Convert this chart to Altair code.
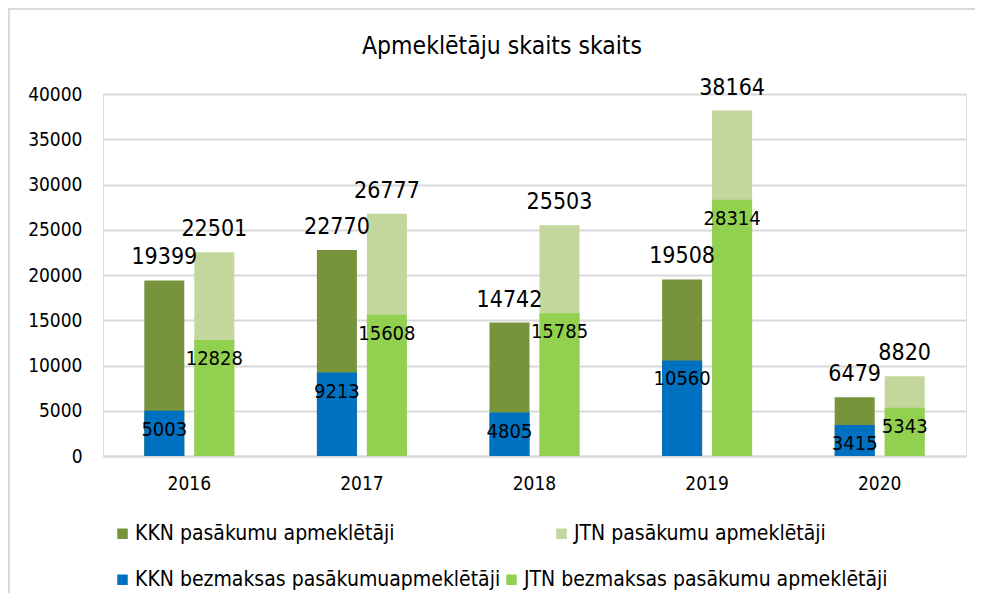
import altair as alt
import pandas as pd

years = ["2016", "2017", "2018", "2019", "2020"]
kkn_total = [19399, 22770, 14742, 19508, 6479]
jtn_total = [22501, 26777, 25503, 38164, 8820]
kkn_free = [5003, 9213, 4805, 10560, 3415]
jtn_free = [12828, 15608, 15785, 28314, 5343]

total_names = ["KKN pasākumu apmeklētāji", "JTN pasākumu apmeklētāji"]
free_names = ["KKN bezmaksas pasākumuapmeklētāji", "JTN bezmaksas pasākumu apmeklētāji"]
total_colors = ["#77933C", "#C3D69B"]
free_colors = ["#0070C0", "#92D050"]
title_text = "Apmeklētāju skaits skaits"
y_ticks = [0, 5000, 10000, 15000, 20000, 25000, 30000, 35000, 40000]

rows = []
for i, yr in enumerate(years):
    rows.append({"year": yr, "grp": "KKN", "series": total_names[0], "value": kkn_total[i], "kind": "total"})
    rows.append({"year": yr, "grp": "JTN", "series": total_names[1], "value": jtn_total[i], "kind": "total"})
    rows.append({"year": yr, "grp": "KKN", "series": free_names[0], "value": kkn_free[i], "kind": "free"})
    rows.append({"year": yr, "grp": "JTN", "series": free_names[1], "value": jtn_free[i], "kind": "free"})
df = pd.DataFrame(rows)

FONT = "DejaVu Sans Condensed, DejaVu Sans"

x_enc = alt.X(
    "year:N",
    sort=years,
    title=None,
    scale=alt.Scale(paddingInner=0.4786, paddingOuter=0.2393),
    axis=alt.Axis(
        labelAngle=0,
        labelFontSize=19,
        labelFont=FONT,
        labelColor="#000000",
        labelPadding=18,
        ticks=False,
        domain=True,
        domainColor="#d9d9d9",
        domainWidth=2,
        grid=False,
    ),
)
xoff_enc = alt.XOffset(
    "grp:N",
    scale=alt.Scale(domain=["KKN", "JTN"], paddingInner=0.2, paddingOuter=0),
)
y_enc = alt.Y(
    "value:Q",
    title=None,
    scale=alt.Scale(domain=[0, 40000], nice=False),
    axis=alt.Axis(
        values=y_ticks,
        labelFontSize=19,
        labelFont=FONT,
        labelColor="#000000",
        labelPadding=21,
        ticks=False,
        domain=False,
        grid=True,
        gridColor="#d9d9d9",
        gridWidth=2,
        format="d",
    ),
)


def make_legend(ly, colpad):
    return alt.Legend(
        title=None,
        orient="none",
        legendX=9,
        legendY=ly,
        direction="horizontal",
        columns=2,
        symbolType="square",
        symbolSize=110,
        symbolStrokeWidth=0,
        labelFontSize=21,
        labelFont=FONT,
        labelColor="#000000",
        labelOffset=2,
        columnPadding=colpad,
        labelLimit=500,
    )


total_color = alt.Color(
    "series:N",
    scale=alt.Scale(domain=total_names, range=total_colors),
    legend=make_legend(429, 156),
)
free_color = alt.Color(
    "series:N",
    scale=alt.Scale(domain=free_names, range=free_colors),
    legend=make_legend(475, -6),
)

base = alt.Chart(df)

total_bars = base.transform_filter(alt.datum.kind == "total").mark_bar().encode(
    x=x_enc, xOffset=xoff_enc, y=y_enc, color=total_color
)
free_bars = base.transform_filter(alt.datum.kind == "free").mark_bar().encode(
    x=x_enc, xOffset=xoff_enc, y=y_enc, color=free_color
)
total_text = base.transform_filter(alt.datum.kind == "total").mark_text(
    baseline="alphabetic", dy=-16, fontSize=23, font=FONT, color="#000000"
).encode(x=x_enc, xOffset=xoff_enc, y=y_enc, text=alt.Text("value:Q", format="d"))
free_text = base.transform_filter(alt.datum.kind == "free").mark_text(
    baseline="middle", dy=19, fontSize=20, font=FONT, color="#000000"
).encode(x=x_enc, xOffset=xoff_enc, y=y_enc, text=alt.Text("value:Q", format="d"))

frame_df = pd.DataFrame({"k": [0]})
left_line = alt.Chart(frame_df).mark_rule(color="#d9d9d9", strokeWidth=2).encode(
    x=alt.value(-94), y=alt.value(-85), y2=alt.value(600)
)
top_line = alt.Chart(frame_df).mark_rule(color="#d9d9d9", strokeWidth=2).encode(
    x=alt.value(-95), x2=alt.value(890), y=alt.value(-85)
)
title_mark = alt.Chart(frame_df).mark_text(
    fontSize=24.5, font=FONT, color="#000000", baseline="middle", align="center"
).encode(x=alt.value(399), y=alt.value(-47), text=alt.value(title_text))

chart = (
    alt.layer(left_line, top_line, title_mark, total_bars, free_bars, total_text, free_text)
    .resolve_scale(color="independent")
    .properties(
        width=863,
        height=362,
        autosize=alt.AutoSizeParams(type="none"),
        padding={"left": 95, "top": 86, "right": 9, "bottom": 137},
    )
    .configure_view(stroke=None)
    .configure(background="#ffffff")
)

chart.save("out.html", embed_options={"renderer": "svg", "actions": False})
